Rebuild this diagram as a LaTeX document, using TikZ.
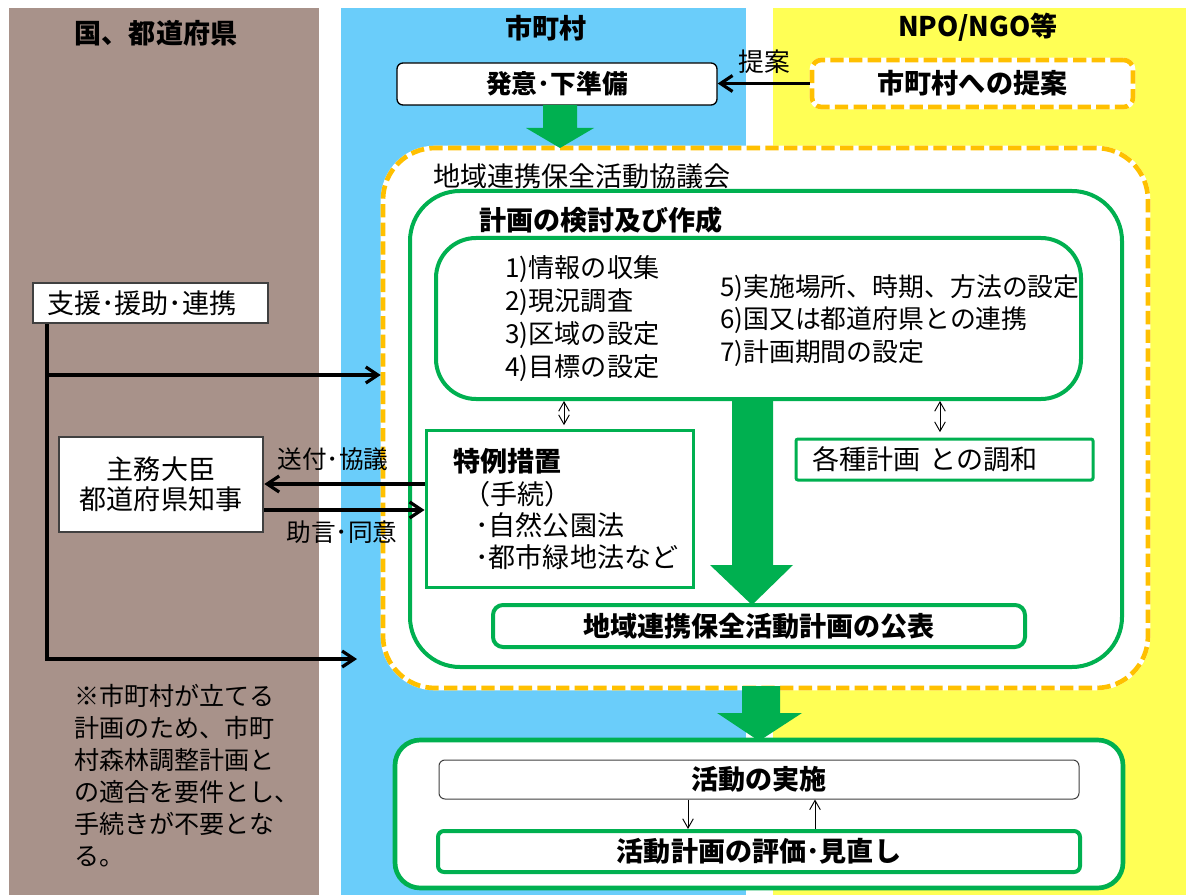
\documentclass[tikz,border=0pt]{standalone}
\usepackage{fontspec}
\setmainfont{Noto Sans CJK JP}
\usetikzlibrary{arrows.meta}
\definecolor{brownbg}{RGB}{168,146,138}
\definecolor{bluebg}{RGB}{106,205,250}
\definecolor{yellowbg}{RGB}{255,255,85}
\definecolor{orng}{RGB}{255,192,0}
\definecolor{grn}{RGB}{0,176,80}
\definecolor{dgray}{RGB}{64,64,64}
\begin{document}
\begin{tikzpicture}[x=0.75pt,y=-0.75pt,
  txt/.style={inner sep=0pt,font=\fontsize{20.3}{25}\selectfont},
  btxt/.style={inner sep=0pt,font=\fontsize{20.3}{25}\selectfont\bfseries},
  wbox/.style={inner sep=0pt,fill=white},
  greenbox/.style={wbox,draw=grn,line width=3pt},
  dashbox/.style={wbox,draw=white,line width=3.5pt,postaction={draw=orng,line width=3.5pt,dash pattern=on 10pt off 4pt}},
  blk/.style={line width=2.4pt,-{Straight Barb[length=9pt,width=12pt]}},
  dbl/.style={line width=0.7pt,{Straight Barb[length=7pt,width=8pt]}-{Straight Barb[length=7pt,width=8pt]}},
  sgl/.style={line width=0.7pt,-{Straight Barb[length=7pt,width=8pt]}},
  bigarrow/.style={fill=grn,draw=none},
]
\useasboundingbox (0,0) rectangle (1186,895);
\fill[white] (0,0) rectangle (1186,895);
\fill[brownbg] (9,8) rectangle (319,895);
\fill[bluebg] (341,8) rectangle (746,895);
\fill[yellowbg] (773,8) rectangle (1186,895);

% titles
\node[btxt] (t1) at (156,33) {国、都道府県};
\node[btxt] (t2) at (546,28) {市町村};
\node[btxt] (t3) at (978,27) {NPO/NGO等};

% top boxes
\node[wbox,draw=black,line width=1pt,rounded corners=4.5pt,minimum width=240pt,minimum height=31.5pt,font=\fontsize{19.3}{24}\selectfont\bfseries] (b1) at (557,84) {発意･下準備};
\node[dashbox,rounded corners=7pt,minimum width=240.75pt,minimum height=35.25pt,font=\fontsize{20.3}{25}\selectfont\bfseries] (b2) at (972.5,83.5) {市町村への提案};
\draw[blk] (b2.west) -- (b2.west -| b1.east);
\node[txt,font=\fontsize{19.3}{24}\selectfont] (lp) at (764,62) {提案};

% council
\node[dashbox,rounded corners=39pt,minimum width=573.75pt,minimum height=405pt] (cb) at (765.5,418) {};
\fill[bigarrow] (543,105) -- (577,105) -- (577,128) -- (594,128) -- (560,148) -- (526,128) -- (543,128) -- cycle;
\node[txt,anchor=west] (cbl) at (433,176) {地域連携保全活動協議会};
\node[greenbox,rounded corners=37.5pt,minimum width=534pt,minimum height=357pt] (g1) at (766,429) {};
\node[btxt,anchor=west] (g1l) at (479,220) {計画の検討及び作成};
\node[greenbox,rounded corners=30pt,minimum width=483.75pt,minimum height=120.75pt] (g2) at (758.5,318.5) {};
\node[txt,anchor=west,align=left,font=\fontsize{19.6}{24.75}\selectfont] (l1) at (505,318.5) {1)情報の収集\\2)現況調査\\3)区域の設定\\4)目標の設定};
\node[txt,anchor=west,align=left,font=\fontsize{19.4}{24.4}\selectfont] (l2) at (720,320.5) {5)実施場所、時期、方法の設定\\6)国又は都道府県との連携\\7)計画期間の設定};

\fill[bigarrow] (732,400) -- (773,400) -- (773,565) -- (793,565) -- (752,605) -- (710,565) -- (732,565) -- cycle;

\node[greenbox,line width=2.25pt,minimum width=200.25pt,minimum height=117.75pt] (g3) at (559.5,508.5) {};
\node[btxt,anchor=west] (g3a) at (453,461) {特例措置};
\node[txt,anchor=west] (g3b) at (463,494) {（手続）};
\node[txt,anchor=west] (g3c) at (475,525) {･自然公園法};
\node[txt,anchor=west] (g3d) at (475,557) {･都市緑地法など};

\node[greenbox,line width=2.25pt,rounded corners=1.5pt,minimum width=222.75pt,minimum height=30.75pt,inner xsep=12pt,text width=198pt,align=left,font=\fontsize{20.3}{25}\selectfont] (g4) at (944.5,459.5) {各種計画 との調和};

\node[greenbox,rounded corners=7.5pt,minimum width=399pt,minimum height=31.5pt,font=\fontsize{20.3}{25}\selectfont\bfseries] (g5) at (759,626) {地域連携保全活動計画の公表};

\coordinate (ax1) at (564,0);
\coordinate (ax2) at (940,0);
\draw[dbl,shorten >=2.5pt] (g2.south -| ax1) -- (g3.north -| ax1);
\draw[dbl,shorten >=4pt] (g2.south -| ax2) -- (g4.north -| ax2);

% left side
\node[wbox,draw=dgray,line width=2pt,minimum width=176.25pt,minimum height=30pt,inner xsep=10.5pt,text width=155.25pt,align=left,font=\fontsize{20.3}{25}\selectfont] (s1) at (150.5,303) {支援･援助･連携};
\node[wbox,draw=dgray,line width=2pt,minimum width=153pt,minimum height=71.25pt,align=center,font=\fontsize{20.3}{22.5}\selectfont] (s2) at (161,484.5) {主務大臣\\都道府県知事};

\coordinate (vx) at (47,0);
\coordinate (h1) at (47,375);
\coordinate (vb) at (47,659);
\coordinate (e2) at (357,659);
\draw[blk] (s1.south -| vx) -- (vb) -- (e2);
\draw[blk] (h1) -- (h1 -| cb.west);

\coordinate (y1) at (0,484);
\coordinate (y2) at (0,510);
\draw[blk] (g3.west |- y1) -- (s2.east |- y1);
\draw[blk] (s2.east |- y2) -- (g3.west |- y2);
\node[txt,font=\fontsize{18.5}{22}\selectfont] (l3) at (333,459) {送付･協議};
\node[txt,font=\fontsize{18.5}{22}\selectfont] (l4) at (342,532) {助言･同意};

\node[txt,anchor=west,align=left,font=\fontsize{18.8}{23.9}\selectfont] (note) at (74,775.5) {※市町村が立てる\\計画のため、市町\\村森林調整計画と\\の適合を要件とし、\\手続きが不要とな\\る。};

% bottom
\node[greenbox,line width=3.5pt,rounded corners=19pt,minimum width=546pt,minimum height=111pt] (g6) at (759,814) {};
\fill[bigarrow] (742,686) -- (780,686) -- (780,713) -- (802,713) -- (759,741) -- (717,713) -- (742,713) -- cycle;
\node[wbox,draw=dgray,line width=0.75pt,rounded corners=4.5pt,minimum width=480pt,minimum height=29.25pt,font=\fontsize{20.3}{25}\selectfont\bfseries] (g7) at (759,779.5) {活動の実施};
\node[greenbox,rounded corners=4.5pt,minimum width=481.5pt,minimum height=30.75pt,font=\fontsize{20.3}{25}\selectfont\bfseries] (g8) at (759,851.5) {活動計画の評価･見直し};
\coordinate (ax3) at (688,0);
\coordinate (ax4) at (815,0);
\draw[sgl] (g7.south -| ax3) -- (g8.north -| ax3);
\draw[sgl] (g8.north -| ax4) -- (g7.south -| ax4);
\end{tikzpicture}
\end{document}
